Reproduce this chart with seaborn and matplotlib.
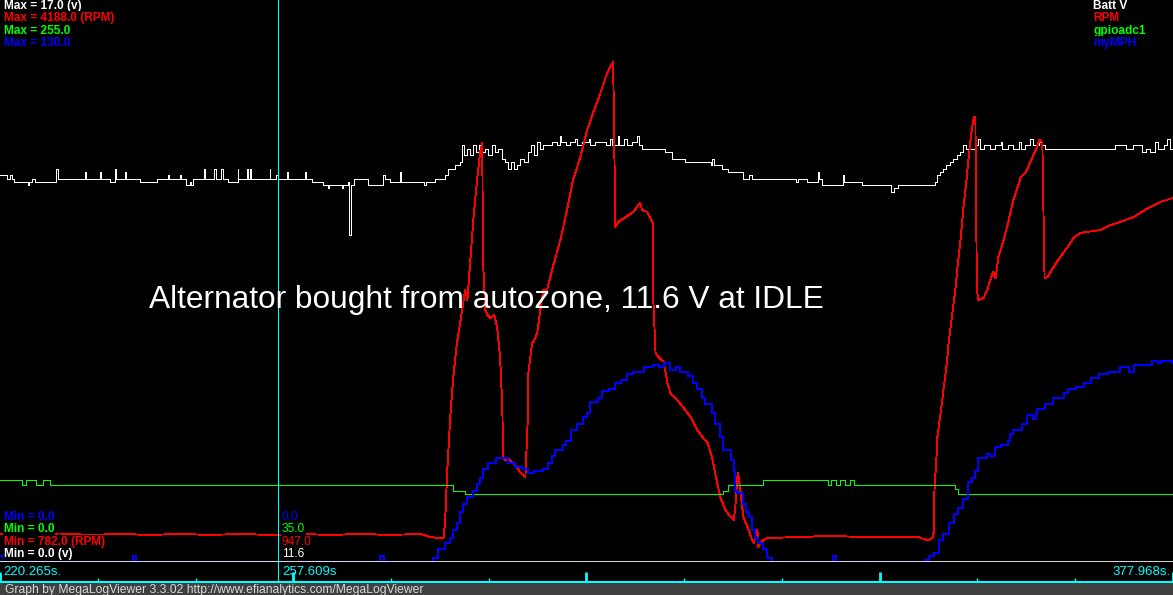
import numpy as np
import pandas as pd
import matplotlib
matplotlib.use("Agg")
import matplotlib.pyplot as plt
import seaborn as sns

# =========================
# Log data
# =========================

t_start = 220.265
t_end = 377.968
t_cursor = 257.609

# Batt V (volts)
batt_time = [
    220.3, 221.2, 221.6, 221.9, 222.2, 224.0, 224.2, 224.6, 225.0, 227.8,
    228.1, 231.7, 231.8, 233.7, 233.9, 235.1, 235.7, 235.9, 237.1, 237.2,
    239.1, 241.4, 242.9, 243.0, 244.5, 244.6, 245.3, 245.8, 246.0, 246.2,
    247.7, 247.8, 249.0, 249.3, 250.0, 250.3, 250.9, 252.2, 252.3, 253.5,
    253.6, 253.9, 254.0, 256.5, 256.6, 257.4, 257.7, 258.9, 259.0, 261.3,
    261.4, 262.2, 263.7, 264.4, 264.5, 266.3, 266.4, 267.1, 267.2, 267.5,
    267.8, 269.8, 271.8, 272.0, 272.7, 274.1, 274.2, 277.3, 277.6, 278.8,
    280.1, 280.5, 281.5, 282.1, 282.4, 282.7, 283.1, 283.5, 283.9, 284.3,
    284.7, 285.1, 285.5, 285.9, 286.4, 286.8, 287.2, 287.8, 288.2, 288.6,
    289.0, 289.4, 289.8, 290.2, 290.7, 291.3, 291.7, 292.1, 292.5, 292.9,
    293.3, 294.5, 295.1, 295.5, 295.7, 296.3, 296.9, 297.6, 297.9, 298.5,
    299.4, 299.6, 300.3, 301.8, 302.3, 302.6, 303.3, 303.5, 304.2, 304.6,
    305.3, 305.9, 306.2, 306.6, 309.7, 310.6, 312.3, 315.8, 316.0, 316.2,
    317.4, 318.2, 320.1, 320.9, 321.4, 327.3, 327.5, 328.7, 330.3, 330.4,
    330.8, 333.6, 333.8, 336.2, 340.0, 340.1, 340.4, 341.0, 346.0, 346.3,
    346.7, 347.1, 347.5, 348.0, 348.4, 348.9, 349.3, 349.7, 350.1, 350.5,
    350.7, 351.3, 351.7, 352.0, 352.5, 353.4, 354.1, 354.8, 355.0, 355.8,
    356.4, 357.2, 357.5, 358.1, 358.8, 359.1, 359.9, 360.3, 360.8, 370.2,
    371.7, 372.6, 373.3, 373.8, 374.3, 374.9, 375.6, 376.0, 376.7, 377.2,
    377.6, 378.0,
]
batt_volts = [
    11.7, 11.6, 11.7, 11.6, 11.5, 11.4, 11.5, 11.6, 11.5, 11.9,
    11.6, 11.8, 11.6, 11.8, 11.6, 11.5, 11.9, 11.6, 11.8, 11.6,
    11.5, 11.6, 11.7, 11.6, 11.7, 11.6, 11.4, 11.5, 11.4, 11.6,
    11.9, 11.6, 11.9, 11.6, 11.9, 11.6, 11.5, 11.9, 11.6, 11.9,
    11.6, 11.9, 11.6, 11.9, 11.6, 11.7, 11.6, 11.8, 11.6, 11.8,
    11.6, 11.5, 11.4, 11.3, 11.4, 11.3, 11.4, 11.5, 9.9, 11.4,
    11.6, 11.4, 11.7, 11.6, 11.5, 11.8, 11.5, 11.4, 11.5, 11.6,
    11.7, 11.9, 12.0, 12.1, 12.6, 12.3, 12.5, 12.3, 12.6, 12.4,
    12.6, 12.4, 12.5, 12.3, 12.6, 12.4, 12.5, 12.2, 12.1, 11.9,
    12.1, 11.9, 12.0, 12.2, 12.1, 12.4, 12.6, 12.3, 12.7, 12.5,
    12.6, 12.7, 12.6, 12.9, 12.7, 12.6, 12.7, 12.8, 12.6, 12.7,
    12.8, 12.6, 12.7, 12.6, 12.8, 12.6, 12.9, 12.6, 12.8, 12.6,
    12.7, 12.9, 12.6, 12.5, 12.4, 12.2, 12.1, 12.0, 12.2, 12.0,
    11.9, 11.8, 11.6, 11.7, 11.6, 11.5, 11.6, 11.5, 11.8, 11.6,
    11.4, 11.7, 11.5, 11.4, 11.3, 11.2, 11.3, 11.4, 11.5, 11.7,
    11.8, 11.9, 12.0, 12.1, 12.2, 12.3, 12.4, 12.6, 12.5, 12.7,
    12.5, 12.6, 12.8, 12.5, 12.6, 12.5, 12.6, 12.7, 12.5, 12.6,
    12.5, 12.7, 12.5, 12.6, 12.8, 12.6, 12.7, 12.6, 12.5, 12.6,
    12.5, 12.6, 12.6, 12.4, 12.5, 12.4, 12.7, 12.5, 12.6, 12.8,
    12.5, 12.6,
]

# RPM
rpm_time = [
    220.3, 224.3, 228.3, 232.4, 236.4, 240.4, 244.5, 248.5, 252.6, 256.6,
    260.6, 264.7, 268.7, 272.7, 276.8, 278.1, 279.2, 279.9, 280.1, 280.4,
    280.8, 281.2, 281.7, 282.4, 282.8, 283.1, 283.5, 283.9, 284.4, 284.8,
    285.1, 285.2, 285.5, 285.8, 286.2, 286.7, 287.1, 287.5, 287.8, 287.9,
    288.2, 288.5, 289.3, 290.2, 290.9, 291.2, 291.3, 291.8, 292.0, 292.5,
    292.9, 293.3, 293.8, 294.6, 295.6, 296.5, 297.3, 298.3, 299.2, 300.0,
    301.0, 301.9, 302.3, 302.7, 303.0, 303.4, 305.4, 306.3, 306.6, 307.3,
    308.0, 308.1, 308.4, 308.8, 309.5, 310.0, 310.4, 311.3, 312.1, 313.1,
    314.0, 314.7, 315.4, 316.0, 316.4, 317.1, 317.8, 318.5, 318.9, 319.1,
    319.4, 319.5, 319.8, 320.2, 320.9, 321.4, 321.6, 321.8, 322.1, 322.2,
    322.5, 322.9, 323.4, 327.9, 331.9, 336.0, 341.4, 343.8, 344.0, 345.0,
    345.6, 345.8, 345.9, 346.2, 346.3, 346.6, 346.9, 347.1, 347.4, 347.6,
    347.8, 348.7, 349.0, 349.4, 349.8, 350.2, 350.5, 350.9, 351.2, 351.4,
    351.6, 351.8, 352.5, 353.0, 353.4, 353.8, 354.1, 354.5, 355.2, 355.8,
    356.5, 357.1, 357.5, 358.1, 358.5, 359.2, 359.7, 360.0, 360.4, 360.6,
    360.7, 361.1, 361.9, 362.8, 363.8, 364.6, 365.5, 367.3, 368.2, 369.6,
    370.9, 372.7, 374.6, 376.3, 377.9,
]
rpm_values = [
    952, 946, 955, 946, 952, 946, 952, 946, 952, 946,
    952, 946, 952, 946, 952, 934, 927, 930, 1018, 1340,
    1661, 1903, 2109, 2309, 2430, 2370, 2612, 2855, 3097, 3261,
    3321, 2612, 2309, 2279, 2261, 2279, 2206, 2024, 1721, 1418,
    1400, 1412, 1382, 1327, 1297, 1624, 1927, 2109, 2115, 2170,
    2309, 2430, 2430, 2570, 2733, 2915, 3097, 3237, 3400, 3503,
    3624, 3746, 3782, 3812, 2812, 2843, 2903, 2958, 2915, 2903,
    2837, 2370, 2049, 2024, 1994, 1867, 1806, 1764, 1721, 1661,
    1582, 1540, 1503, 1418, 1321, 1176, 1097, 1055, 1037, 1097,
    1300, 1321, 1218, 1055, 976, 915, 897, 934, 976, 873,
    897, 915, 927, 934, 940, 934, 934, 934, 927, 915,
    927, 958, 1218, 1443, 1540, 1643, 1746, 1824, 1927, 2006,
    2109, 2430, 2570, 2733, 2933, 3097, 3237, 3400, 3479, 3479,
    2430, 2370, 2382, 2430, 2491, 2540, 2503, 2630, 2733, 2837,
    2976, 3055, 3115, 3140, 3176, 3249, 3297, 3340, 3327, 2794,
    2503, 2509, 2570, 2630, 2691, 2746, 2776, 2788, 2794, 2824,
    2843, 2873, 2927, 2964, 2988,
]

# gpioadc1
gpio_time = [
    220.3, 223.2, 223.8, 225.1, 226.0, 227.0, 281.2, 282.8, 317.5, 318.2,
    322.8, 331.6, 332.0, 332.7, 333.2, 333.9, 334.5, 335.1, 348.6, 349.1,
    378.0,
]
gpio_values = [
    37, 35, 37, 35, 37, 35, 32, 31, 32, 35,
    37, 35, 37, 35, 37, 35, 37, 35, 33, 31,
    31,
]

# myMPH
mph_time = [
    220.3, 220.7, 238.2, 238.6, 271.4, 271.9, 278.5, 279.2, 280.1, 280.8,
    281.2, 281.7, 282.1, 282.5, 283.1, 283.8, 284.4, 284.8, 285.2, 285.9,
    286.9, 288.5, 289.5, 290.5, 291.2, 292.0, 293.3, 294.0, 294.5, 294.9,
    295.9, 296.3, 297.0, 297.9, 298.6, 299.2, 299.6, 300.6, 301.2, 302.1,
    303.0, 303.7, 304.6, 305.4, 306.8, 308.1, 308.8, 309.5, 310.4, 311.1,
    311.7, 312.7, 313.4, 314.0, 314.7, 315.1, 316.0, 316.4, 317.1, 317.5,
    318.5, 318.9, 319.1, 319.4, 320.1, 320.5, 320.9, 321.4, 321.8, 322.2,
    322.8, 323.4, 324.1, 332.2, 332.7, 344.6, 345.1, 345.8, 346.5, 347.1,
    347.8, 348.5, 349.1, 349.7, 350.4, 351.0, 351.4, 351.8, 353.0, 353.4,
    354.1, 354.8, 355.8, 356.1, 356.5, 357.7, 358.4, 359.1, 359.5, 359.7,
    360.8, 361.8, 363.3, 363.8, 364.9, 366.0, 366.9, 368.0, 369.2, 370.9,
    372.0, 372.7, 375.2, 375.9, 376.3, 377.9, 378.0,
]
mph_values = [
    1.5, 0, 1.5, 0, 1.5, 0, 1, 3, 4.5, 5.5,
    7.5, 9, 11.5, 13.5, 15, 16.5, 18, 19.5, 21.5, 23,
    24, 23, 22, 21.5, 20.5, 21, 21.5, 23, 24.5, 26,
    27, 28, 30.5, 32, 33.5, 34.5, 37, 38, 39.5, 40,
    41.5, 42, 43.5, 44, 45, 45.5, 45, 46, 44.5, 45,
    44, 43, 41.5, 40, 38, 36.5, 34.5, 32, 29, 26,
    23.5, 21, 16.5, 16, 13.5, 11.5, 10.5, 7.5, 5.5, 4.5,
    3, 1, 0, 1.5, 0, 0.5, 1.5, 2, 5, 6.5,
    9, 11, 12.5, 14.5, 18.5, 19.5, 21, 24, 25, 24.5,
    26.5, 27, 28, 29.5, 30.5, 32, 34, 33, 34.5, 35.5,
    36.5, 38, 39, 40, 40.5, 41.5, 42.5, 43.5, 44, 45,
    44, 45.5, 46.5, 46, 46.5, 46, 46,
]

# scale limits (from the Min / Max labels)
batt_range = (0.0, 17.0)
rpm_range = (782.0, 4188.0)
gpio_range = (0.0, 255.0)
mph_range = (0.0, 130.0)

# cursor readout
cursor_values = ["0.0", "35.0", "947.0", "11.6"]

# =========================
# Build frames
# =========================


def scaled(times, values, lim):
    df = pd.DataFrame({"time": times, "value": values})
    df["scaled"] = (df["value"] - lim[0]) / (lim[1] - lim[0])
    return df


batt_df = scaled(batt_time, batt_volts, batt_range)
rpm_df = scaled(rpm_time, rpm_values, rpm_range)
gpio_df = scaled(gpio_time, gpio_values, gpio_range)
mph_df = scaled(mph_time, mph_values, mph_range)

# =========================
# Figure
# =========================

W, H = 1173, 595
plt.rcParams["font.family"] = ["Liberation Sans", "DejaVu Sans"]

fig = plt.figure(figsize=(W / 100, H / 100), dpi=100, facecolor="black")

ax = fig.add_axes([0, 33 / H, 1, 562 / H])
ax.set_facecolor("black")

CYAN = "#00ffff"
RED = "#ff0000"
GREEN = "#00ff00"
BLUE = "#0000ff"

sns.lineplot(data=batt_df, x="time", y="scaled", ax=ax, color="white",
             linewidth=0.65, drawstyle="steps-post", estimator=None,
             antialiased=False)
sns.lineplot(data=rpm_df, x="time", y="scaled", ax=ax, color=RED,
             linewidth=0.65, estimator=None, antialiased=False)
sns.lineplot(data=gpio_df, x="time", y="scaled", ax=ax, color=GREEN,
             linewidth=0.65, drawstyle="steps-post", estimator=None,
             antialiased=False)
sns.lineplot(data=mph_df, x="time", y="scaled", ax=ax, color=BLUE,
             linewidth=1.2, drawstyle="steps-post", estimator=None,
             antialiased=False)

ax.axvline(t_cursor, color=CYAN, linewidth=0.75)

ax.set_xlim(t_start, t_end)
ax.set_ylim(0, 1)
ax.set_xticks([])
ax.set_yticks([])
ax.set_xlabel("")
ax.set_ylabel("")
for side in ["top", "left", "right"]:
    ax.spines[side].set_visible(False)
ax.spines["bottom"].set_color("white")
ax.spines["bottom"].set_linewidth(1.2)

# =========================
# Time strip
# =========================

ax_t = fig.add_axes([0, 13 / H, 1, 20 / H])
ax_t.set_facecolor("black")
ax_t.set_xlim(t_start, t_end)
ax_t.set_ylim(0, 20)
ax_t.set_xticks([])
ax_t.set_yticks([])
for side in ["top", "left", "right"]:
    ax_t.spines[side].set_visible(False)
ax_t.spines["bottom"].set_color(CYAN)
ax_t.spines["bottom"].set_linewidth(1.5)

tick_pos = np.linspace(t_start, t_end, 13)
for i, tp in enumerate(tick_pos):
    if i % 3 == 0:
        ax_t.vlines(tp, 0, 10, color=CYAN, linewidth=2.0)
    else:
        ax_t.vlines(tp, 0, 4, color=CYAN, linewidth=1.0)
ax_t.axvline(t_cursor, color=CYAN, linewidth=0.75)

# =========================
# Footer
# =========================

ax_f = fig.add_axes([0, 0, 1, 12 / H])
ax_f.set_facecolor("#404040")
ax_f.set_xticks([])
ax_f.set_yticks([])
for side in ax_f.spines:
    ax_f.spines[side].set_visible(False)


def px_text(x, y, s, **kw):
    fig.text(x / W, 1 - y / H, s, **kw)


px_text(5, 589.5, "Graph by MegaLogViewer 3.3.02 http://www.efianalytics.com/MegaLogViewer",
        color="#d8d8d8", fontsize=8.75, va="center", ha="left")

# time labels
px_text(3, 572, "220.265s.", color=CYAN, fontsize=9.5, va="center")
px_text(282, 572, "257.609s", color=CYAN, fontsize=9.5, va="center")
px_text(1171, 572, "377.968s.", color=CYAN, fontsize=9.5, va="center", ha="right")

# =========================
# Labels
# =========================

box = dict(facecolor="black", edgecolor="none", pad=0.6)

max_labels = ["Max = 17.0 (v)", "Max = 4188.0 (RPM)", "Max = 255.0", "Max = 130.0"]
max_colors = ["white", RED, GREEN, BLUE]
for i, (lab, col) in enumerate(zip(max_labels, max_colors)):
    px_text(4, 6 + i * 12.3, lab, color=col, fontsize=8.6, fontweight="bold",
            va="center", bbox=box)

names = ["Batt V", "RPM", "gpioadc1", "myMPH"]
for i, (lab, col) in enumerate(zip(names, max_colors)):
    px_text(1093, 6 + i * 12.3, lab, color=col, fontsize=8.6, fontweight="bold",
            va="center", bbox=box)

min_labels = ["Min = 0.0", "Min = 0.0", "Min = 782.0 (RPM)", "Min = 0.0 (v)"]
min_colors = [BLUE, GREEN, RED, "white"]
for i, (lab, col) in enumerate(zip(min_labels, min_colors)):
    px_text(4, 517 + i * 12.3, lab, color=col, fontsize=8.6, fontweight="bold",
            va="center", bbox=box)

for i, (lab, col) in enumerate(zip(cursor_values, min_colors)):
    px_text(282, 517 + i * 12.3, lab, color=col, fontsize=8.6,
            va="center", bbox=box)

# annotation
px_text(149, 308, "Alternator bought from autozone, 11.6 V at IDLE",
        color="white", fontsize=22.8, va="baseline", ha="left")

plt.savefig("out.png", dpi=100, facecolor="black")

plt.close()
